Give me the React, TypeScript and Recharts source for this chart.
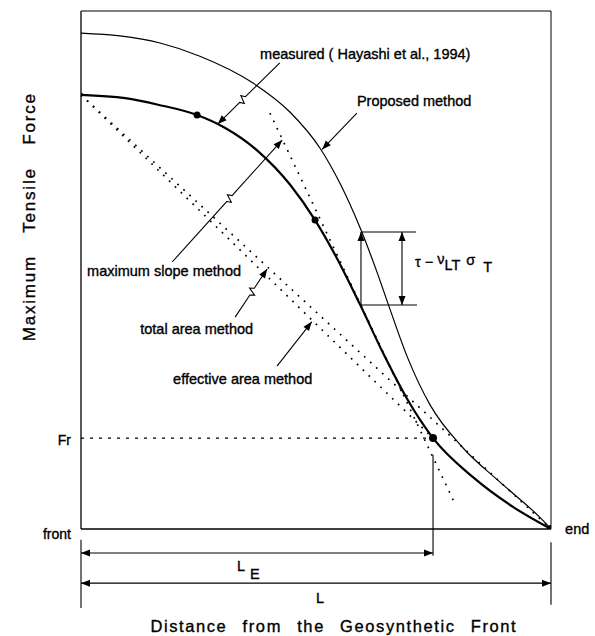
import {
  ComposedChart,
  Line,
  XAxis,
  YAxis,
  ReferenceLine,
  ReferenceDot,
} from 'recharts'

// x: distance from the front (0 = front, 100 = end), y: tensile force (same units)
const measured = [
  { x: 0, y: 92.2 }, { x: 9.4, y: 91.5 }, { x: 16.4, y: 90.1 }, { x: 24.7, y: 87.9 },
  { x: 30.6, y: 85.2 }, { x: 37.7, y: 80.2 }, { x: 44.5, y: 73.1 }, { x: 49.8, y: 65.6 },
  { x: 54.5, y: 57.4 }, { x: 59.4, y: 47.6 }, { x: 64.3, y: 37.3 }, { x: 69.4, y: 27.6 },
  { x: 74.9, y: 19.3 }, { x: 83.4, y: 11.0 }, { x: 91.9, y: 4.7 }, { x: 100, y: 0 },
]
const proposed = [
  { x: 0, y: 105.3 }, { x: 8.3, y: 104.7 }, { x: 16.8, y: 103.2 }, { x: 25.3, y: 100.4 },
  { x: 36.6, y: 94.7 }, { x: 44.5, y: 88.5 }, { x: 50.9, y: 80.8 }, { x: 55.1, y: 73.4 },
  { x: 59.4, y: 63.9 }, { x: 63.0, y: 54.5 }, { x: 65.7, y: 46.8 }, { x: 69.4, y: 36.6 },
  { x: 74.3, y: 26.3 }, { x: 81.3, y: 17.2 }, { x: 89.1, y: 10.0 }, { x: 97.7, y: 2.4 },
  { x: 100, y: 0 },
]
const maxSlope = [{ x: 40.2, y: 88.3 }, { x: 79.6, y: 5.3 }]
const totalArea = [{ x: 0, y: 92.2 }, { x: 100, y: 0 }]
const effectiveArea = [{ x: 0, y: 92.2 }, { x: 74.9, y: 19.3 }]
const frLine = [{ x: 0, y: 19.3 }, { x: 74.9, y: 19.3 }]
const markedPoints = [
  { x: 0, y: 92.2 }, { x: 24.7, y: 87.9 }, { x: 49.8, y: 65.6 }, { x: 74.9, y: 19.3 }, { x: 100, y: 0 },
]
const yTicks = [0, 19.3]
const yTickLabels = ['front', 'Fr']

// annotations (arrows, dimension lines, notes) in chart units
const arrows = [
  { from: [42.3, 99.0], to: [29.1, 86.0], heads: 1, bolt: 0.6 },
  { from: [58.7, 88.3], to: [51.3, 80.6], heads: 1 },
  { from: [19.4, 56.7], to: [42.8, 82.6], heads: 1, bolt: 0.52 },
  { from: [32.8, 45.0], to: [39.6, 55.2], heads: 1, bolt: 0.53 },
  { from: [41.7, 34.6], to: [49.1, 44.0], heads: 1 },
  { from: [59.57, 47.57], to: [59.57, 63.07], heads: 1 },
  { from: [68.3, 47.57], to: [68.3, 63.07], heads: 2 },
  { from: [0, -5.1], to: [74.9, -5.1], heads: 2 },
  { from: [0, -11.5], to: [100, -11.5], heads: 2 },
]
const rules = [
  [[59.57, 63.07], [71.28, 63.07]],
  [[59.57, 47.57], [71.49, 47.57]],
  [[0, -2.3], [0, -16.8]],
  [[100, -2.8], [100, -16.1]],
  [[74.9, 15.7], [74.9, -5.7]],
]
const notes = [
  { x: 38.1, y: 99.8, text: 'measured ( Hayashi et al., 1994)' },
  { x: 58.7, y: 89.8, text: 'Proposed method' },
  { x: 1.3, y: 53.7, text: 'maximum slope method' },
  { x: 12.6, y: 41.4, text: 'total area method' },
  { x: 19.6, y: 30.8, text: 'effective area method' },
  { x: 103.0, y: -1.1, text: 'end' },
  { x: 50.0, y: -15.7, text: 'L' },
]

const FONT = '"Liberation Sans", Arial, sans-serif'
const textStyle = { fontFamily: FONT, fontSize: 14.5, fill: '#000', stroke: '#000', strokeWidth: 0.35 }

const arrowShape = (heads: number, bolt?: number) => (p: any) => {
  const { x1, y1, x2, y2 } = p
  const len = Math.hypot(x2 - x1, y2 - y1) || 1
  const ux = (x2 - x1) / len
  const uy = (y2 - y1) / len
  const nx = -uy
  const ny = ux
  const head = (tx: number, ty: number, dx: number, dy: number) => {
    const bx = tx - dx * 9
    const by = ty - dy * 9
    return `${tx},${ty} ${bx - dy * 3.5},${by + dx * 3.5} ${bx + dy * 3.5},${by - dx * 3.5}`
  }
  const pts: number[][] = [[x1, y1]]
  if (bolt) {
    const mx = x1 + (x2 - x1) * bolt
    const my = y1 + (y2 - y1) * bolt
    pts.push([mx - ux * 4, my - uy * 4])
    pts.push([mx - ux * 1.5 + nx * 4, my - uy * 1.5 + ny * 4])
    pts.push([mx + ux * 1.5 - nx * 4, my + uy * 1.5 - ny * 4])
    pts.push([mx + ux * 4, my + uy * 4])
  }
  pts.push([x2, y2])
  return (
    <g>
      <polyline
        points={pts.map((q) => q.join(',')).join(' ')}
        fill="none"
        stroke="#000"
        strokeWidth={1.1}
      />
      <polygon points={head(x2, y2, ux, uy)} fill="#000" />
      {heads === 2 && <polygon points={head(x1, y1, -ux, -uy)} fill="#000" />}
    </g>
  )
}

const noteShape = (text: string) => (p: any) => (
  <text x={p.cx} y={p.cy} style={textStyle}>
    {text}
  </text>
)

const YTick = (p: any) => {
  const i = yTicks.indexOf(p.payload.value)
  return (
    <text x={p.x} y={p.y + (i === 0 ? 10 : 7)} textAnchor="end" style={{ ...textStyle, fontSize: 14 }}>
      {yTickLabels[i]}
    </text>
  )
}

const MarkDot = (p: any) => (
  <circle
    key={`mark-${p.index}`}
    cx={p.cx}
    cy={p.cy}
    r={p.index === 0 ? 2 : p.index >= 3 ? 4 : 3.5}
    fill="#000"
  />
)

const App = () => {
  return (
    <div style={{ position: 'absolute', left: 0, top: 0, width: 595, height: 636, background: '#fff' }}>
      <ComposedChart width={595} height={636} margin={{ top: 11, right: 44, bottom: 77, left: 0 }}>
        <XAxis
          type="number"
          dataKey="x"
          domain={[0, 100]}
          allowDataOverflow
          tick={false}
          tickLine={false}
          height={30}
          axisLine={{ stroke: '#000', strokeWidth: 1.3 }}
        />
        <YAxis
          type="number"
          domain={[0, 110]}
          allowDataOverflow
          ticks={yTicks}
          tick={YTick}
          tickLine={false}
          tickSize={0}
          tickMargin={10}
          width={81}
          axisLine={{ stroke: '#000', strokeWidth: 1.3 }}
        />
        <ReferenceLine y={110} stroke="#000" strokeWidth={1.2} />
        <ReferenceLine x={100} stroke="#000" strokeWidth={1} />

        <Line data={totalArea} dataKey="y" type="linear" stroke="#000" strokeWidth={1.7}
          strokeDasharray="1.7 6.5" dot={false} activeDot={false} isAnimationActive={false} />
        <Line data={effectiveArea} dataKey="y" type="linear" stroke="#000" strokeWidth={1.7}
          strokeDasharray="1.7 6.5" dot={false} activeDot={false} isAnimationActive={false} />
        <Line data={maxSlope} dataKey="y" type="linear" stroke="#000" strokeWidth={1.7}
          strokeDasharray="1.7 6.5" dot={false} activeDot={false} isAnimationActive={false} />
        <Line data={frLine} dataKey="y" type="linear" stroke="#000" strokeWidth={1.1}
          strokeDasharray="3 6" dot={false} activeDot={false} isAnimationActive={false} />
        <Line data={proposed} dataKey="y" type="monotone" stroke="#000" strokeWidth={1.2}
          dot={false} activeDot={false} isAnimationActive={false} />
        <Line data={measured} dataKey="y" type="monotone" stroke="#000" strokeWidth={2.2}
          dot={false} activeDot={false} isAnimationActive={false} />
        <Line data={markedPoints} dataKey="y" stroke="none" dot={MarkDot}
          activeDot={false} isAnimationActive={false} />

        {rules.map((r, i) => (
          <ReferenceLine
            key={`rule-${i}`}
            segment={[{ x: r[0][0], y: r[0][1] }, { x: r[1][0], y: r[1][1] }]}
            ifOverflow="visible"
            stroke="#000"
            strokeWidth={1.1}
          />
        ))}
        {arrows.map((a, i) => (
          <ReferenceLine
            key={`arrow-${i}`}
            segment={[{ x: a.from[0], y: a.from[1] }, { x: a.to[0], y: a.to[1] }]}
            ifOverflow="visible"
            shape={arrowShape(a.heads, a.bolt)}
          />
        ))}
        {notes.map((n, i) => (
          <ReferenceDot key={`note-${i}`} x={n.x} y={n.y} r={0} ifOverflow="visible" shape={noteShape(n.text)} />
        ))}

        <ReferenceDot
          x={71.06}
          y={55.6}
          r={0}
          ifOverflow="visible"
          shape={(p: any) => (
            <text x={p.cx} y={p.cy} style={textStyle}>
              τ − <tspan dy={-3}>ν</tspan>
              <tspan dy={6}>LT</tspan>
              <tspan dx={6} dy={-5}>σ</tspan>
              <tspan dx={8} dy={7}>T</tspan>
            </text>
          )}
        />
        <ReferenceDot
          x={33.2}
          y={-8.9}
          r={0}
          ifOverflow="visible"
          shape={(p: any) => (
            <text x={p.cx} y={p.cy} style={textStyle}>
              L<tspan dx={5} dy={8}>E</tspan>
            </text>
          )}
        />
        <ReferenceDot
          x={53.8}
          y={-21.9}
          r={0}
          ifOverflow="visible"
          shape={(p: any) => (
            <text x={p.cx} y={p.cy} textAnchor="middle"
              style={{ ...textStyle, fontSize: 16.5, letterSpacing: 1.6, wordSpacing: 9 }}>
              Distance from the Geosynthetic Front
            </text>
          )}
        />
        <ReferenceDot
          x={-11.06}
          y={66.3}
          r={0}
          ifOverflow="visible"
          shape={(p: any) => (
            <text x={p.cx} y={p.cy} textAnchor="middle" dominantBaseline="central"
              transform={`rotate(-90 ${p.cx} ${p.cy})`}
              style={{ ...textStyle, fontSize: 17, letterSpacing: 1.8, wordSpacing: 16 }}>
              Maximum Tensile Force
            </text>
          )}
        />
      </ComposedChart>
    </div>
  )
}

export default App
